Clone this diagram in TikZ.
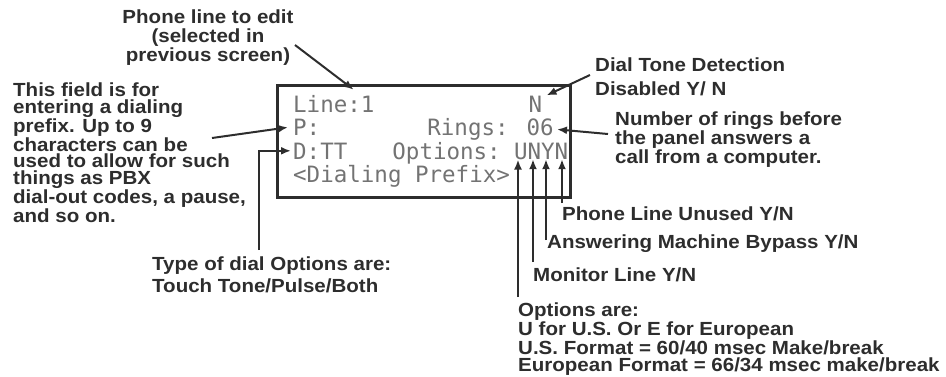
\documentclass[tikz,border=0pt]{standalone}
\usepackage{fontspec}
\setmainfont{Liberation Sans}[FakeStretch=1.08]
\newfontfamily\lcdfont{DejaVu Sans Mono}
\usetikzlibrary{shapes,arrows.meta,positioning}

\definecolor{ink}{RGB}{45,45,45}
\definecolor{lcdgray}{RGB}{115,115,115}

\begin{document}
\begin{tikzpicture}[
  x=1pt, y=-1pt,
  note/.style={font=\fontsize{19}{#1}\selectfont\bfseries, text=ink, align=left, inner sep=0pt, anchor=north west},
  note/.default=16.7,
  lcdtext/.style={font=\fontsize{22.5}{24}\selectfont\lcdfont, text=lcdgray, inner sep=0pt},
  lcdbox/.style={rectangle, draw=ink, line width=3pt, minimum width=293pt, minimum height=112pt},
  line/.style={draw=ink, line width=2pt, -{Latex[length=10pt,width=8pt]}}
]
\useasboundingbox (0,0) rectangle (946,376);

% the display
\node [lcdbox] (lcd) at (423.5,141) {};
\node [lcdtext, anchor=base west] (lineno) at (293,112) {Line:1};
\node [lcdtext, anchor=base] (dtd) at (535.5,112) {N};
\node [lcdtext, anchor=base west] (pfx) at (293,135.5) {P:};
\node [lcdtext, anchor=base east] (rings) at (554,135.5) {Rings: 06};
\node [lcdtext, anchor=base west] (dial) at (293,159) {D:TT};
\node [lcdtext, anchor=base east] (opts) at (501,159) {Options:};
\node [lcdtext, anchor=base] (optU) at (521,159) {U};
\node [lcdtext, anchor=base] (optN) at (534.5,159) {N};
\node [lcdtext, anchor=base] (optY) at (548,159) {Y};
\node [lcdtext, anchor=base] (optP) at (561.5,159) {N};
\node [lcdtext, anchor=base west] (prefix) at (293,182.5) {<Dialing Prefix>};

% the notes
\node [note=19, align=center, anchor=north] (phone) at (208,10) {Phone line to edit\\(selected in\\previous screen)};
\node [note] (prefixnote) at (13,83) {This field is for\\entering a dialing\\prefix. Up to 9\\characters can be\\used to allow for such\\things as PBX\\dial-out codes, a pause,\\and so on.};
\node [note=24] (dtnote) at (595,58) {Dial Tone Detection\\Disabled Y/ N};
\node [note=19] (ringnote) at (615,112) {Number of rings before\\the panel answers a\\call from a computer.};
\node [note] (unused) at (562,207) {Phone Line Unused Y/N};
\node [note] (bypass) at (547,235) {Answering Machine Bypass Y/N};
\node [note] (monitor) at (533,268) {Monitor Line Y/N};
\node [note] (usnote) at (518,303) {Options are:\\U for U.S. Or E for European\\U.S. Format = 60/40 msec Make/break\\European Format = 66/34 msec make/break};
\node [note=22] (typenote) at (152,257) {Type of dial Options are:\\Touch Tone/Pulse/Both};

% tails of the connectors
\coordinate (phoneTail) at (295,45);
\coordinate (prefixTail) at (212,138);
\coordinate (typeTail) at (259,250);
\coordinate (dtTail) at (590,75);
\coordinate (ringTail) at (608,134);
\coordinate (unusedFoot) at (562,203);
\coordinate (bypassFoot) at (546,240);
\coordinate (monitorFoot) at (533,262);
\coordinate (usFoot) at (518,297);

\path [line] (phoneTail) -- ([xshift=-21pt,yshift=5pt]lineno.north east);
\path [line] (prefixTail) -- ([xshift=-5pt]pfx.west);
\path [line] (typeTail) |- ([xshift=-2pt]dial.west);
\path [line] (dtTail) -- ([xshift=4pt]dtd.north east);
\path [line] (ringTail) -- ([xshift=3pt]rings.east);
\path [line] (unusedFoot) -- (unusedFoot |- optP.south);
\path [line] (bypassFoot) -- (bypassFoot |- optY.south);
\path [line] (monitorFoot) -- (monitorFoot |- optN.south);
\path [line] (usFoot) -- (usFoot |- optU.south);

\end{tikzpicture}
\end{document}
